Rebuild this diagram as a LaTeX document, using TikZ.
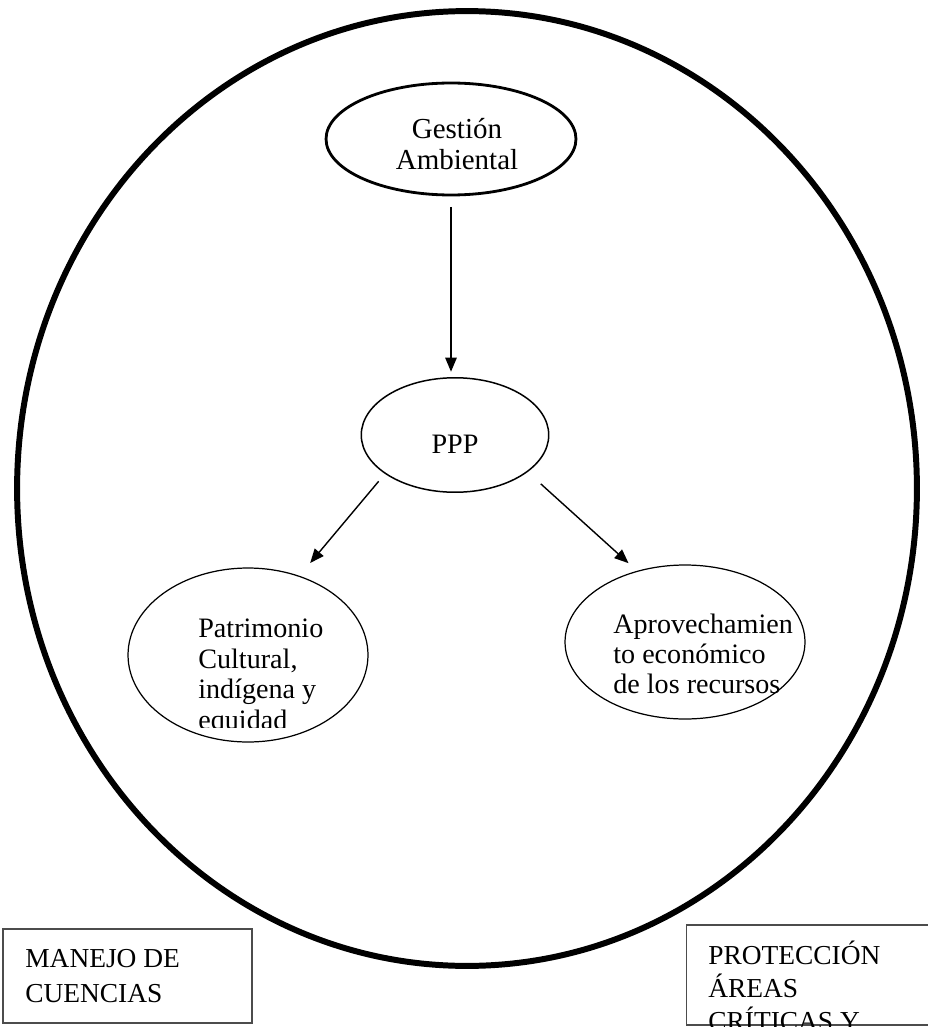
\documentclass[tikz,border=0pt]{standalone}
\usepackage{fontspec}
\setmainfont{Liberation Serif}
\usetikzlibrary{shapes.geometric,arrows.meta}
\tikzstyle{arrow} = [-{Triangle[length=8pt,width=6.5pt]}, line width=0.8pt]
\tikzstyle{oval} = [draw, ellipse, inner sep=0pt]
\tikzstyle{txt} = [inner sep=0pt, align=left, font=\fontsize{16}{17.3}\selectfont]
\tikzstyle{box} = [draw=black!70, line width=0.6pt, inner sep=0pt]

\begin{document}
\begin{tikzpicture}[x=0.02cm, y=-0.02cm]
    \useasboundingbox (0,0) rectangle (928,1027);

    % outer ring
    \node[oval, line width=3.4pt, minimum width=18cm, minimum height=19.1cm] (region) at (467,488.5) {};

    % ellipses
    \node[oval, line width=1.6pt, minimum width=5cm, minimum height=2.24cm] (gest) at (451,139) {};
    \node[oval, line width=0.85pt, minimum width=3.75cm, minimum height=2.29cm] (ppp) at (455,435) {};
    \node[oval, line width=0.7pt, minimum width=4.8cm, minimum height=3.48cm] (patr) at (248,655) {};
    \node[oval, line width=0.7pt, minimum width=4.8cm, minimum height=3.08cm] (apro) at (685,642) {};

    % texts (base = last line)
    \node[txt, align=center, font=\fontsize{16.5}{18.1}\selectfont, anchor=base] (gest-t) at (457,170) {Gestión\\Ambiental};
    \node[txt, anchor=base] (ppp-t) at (455,453) {PPP};
    \begin{scope}
        \clip (150,590) rectangle (360,727);
        \node[txt, anchor=base west] (patr-t) at (198,729) {Patrimonio\\Cultural,\\indígena y\\equidad};
    \end{scope}
    \node[txt, font=\fontsize{16}{17}\selectfont, anchor=base west] (apro-t) at (613,693) {Aprovechamien\\to económico\\de los recursos};

    % arrows
    \draw[arrow, shorten <=6pt, shorten >=3pt] (gest.south) -- (gest.south |- ppp.north);
    \draw[arrow, shorten <=5.5pt, shorten >=9.5pt] (ppp.209) -- (patr.57);
    \draw[arrow, shorten <=10pt, shorten >=6.5pt] (ppp.333) -- (apro.124);

    % boxes at the bottom
    \node[box, minimum width=4.98cm, minimum height=1.88cm] (cuen) at (127.5,976) {};
    \node[txt, font=\fontsize{15.6}{19.8}\selectfont, anchor=base west] (cuen-t) at (25,1002) {MANEJO DE\\CUENCIAS};
    \begin{scope}
        \clip (0,0) rectangle (928,1026);
        \node[box, minimum width=5.48cm, minimum height=2cm] (prot) at (823,975) {};
        \node[txt, font=\fontsize{15.6}{18.7}\selectfont, anchor=base west] (prot-t) at (708,1030) {PROTECCIÓN\\ÁREAS\\CRÍTICAS Y};
    \end{scope}
\end{tikzpicture}
\end{document}
